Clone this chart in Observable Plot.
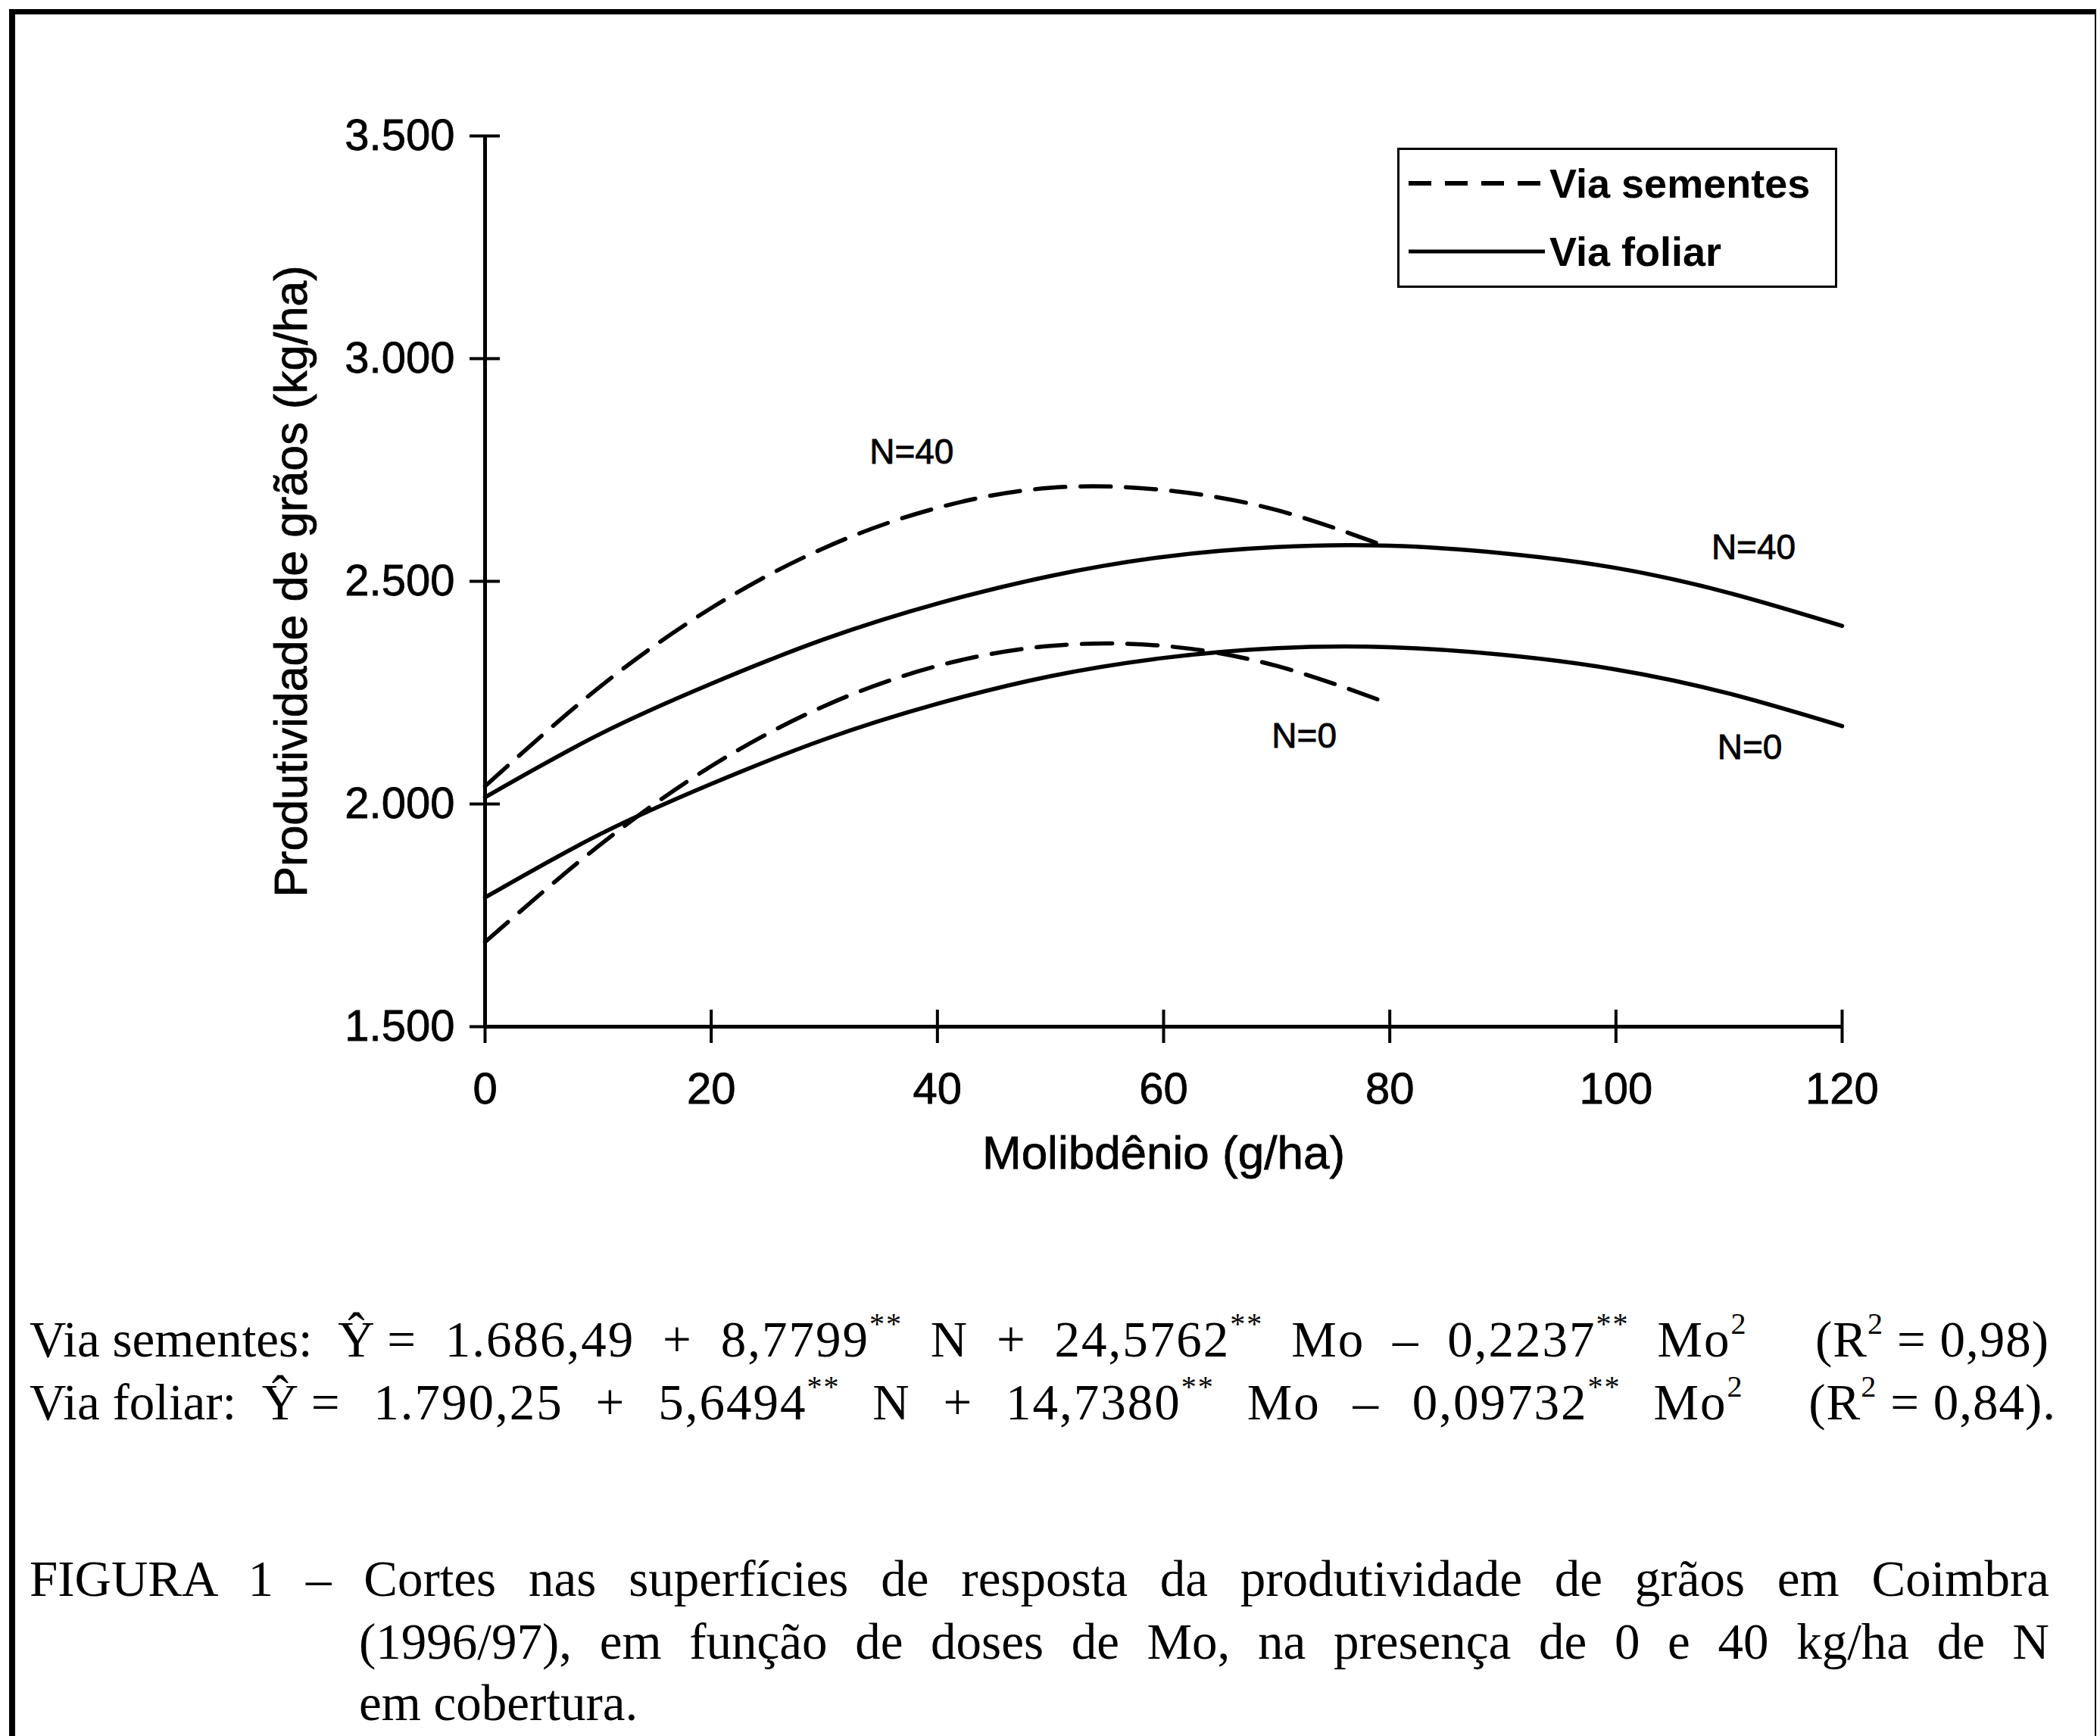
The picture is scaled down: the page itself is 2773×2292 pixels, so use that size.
<!DOCTYPE html>
<html>
<head>
<meta charset="utf-8">
<script src="https://cdn.jsdelivr.net/npm/d3@7"></script>
<script src="https://cdn.jsdelivr.net/npm/@observablehq/plot@0.6"></script>
<style>
  html, body { margin: 0; padding: 0; background: #fff; }
  body { width: 2773px; height: 2292px; position: relative; overflow: hidden; }
  #frame { position: absolute; left: 12px; top: 12px; width: 2746px; height: 2400px;
           border-top: 7px solid #000; border-left: 8px solid #000; border-right: 2px solid #000; }
  #chart { position: absolute; left: 0; top: 0; }
  #chart svg text { stroke: #000; stroke-width: 0.8px; }
  #legend { position: absolute; left: 1845px; top: 195px; width: 581px; height: 185px;
            border: 3px solid #000; box-sizing: border-box; background: #fff;
            font-family: "Liberation Sans", Arial, sans-serif; font-weight: bold; font-size: 54px; }
  #legend .row { position: absolute; left: 0; width: 100%; height: 70px; }
  #legend svg { position: absolute; left: 9px; top: 0; }
  #legend .lab { position: absolute; left: 198px; top: 0; line-height: 70px; }
  .serif { position: absolute; font-family: "Liberation Serif", "Times New Roman", serif;
           font-size: 67px; line-height: 67px; white-space: nowrap; color: #000; }
  .serif sup { font-size: 0.6em; position: relative; top: -0.75em; vertical-align: baseline; line-height: 0; }
  .eqpart { letter-spacing: 2px; word-spacing: 18px; }
  .just { text-align: justify; text-align-last: justify; }
</style>
</head>
<body>
<div id="chart"></div>
<div id="frame"></div>
<div id="legend">
  <div class="row" style="top:9px">
    <svg width="186" height="70"><line x1="3" y1="35" x2="183" y2="35" stroke="#000" stroke-width="6" stroke-dasharray="30,18"/></svg>
    <div class="lab">Via sementes</div>
  </div>
  <div class="row" style="top:99px">
    <svg width="186" height="70"><line x1="3" y1="35" x2="183" y2="35" stroke="#000" stroke-width="5"/></svg>
    <div class="lab">Via foliar</div>
  </div>
</div>

<div class="serif" style="left:39px; top:1735px">Via sementes:&nbsp; Ŷ <span class="eqpart">= 1.686,49 + 8,7799<sup>**</sup> N + 24,5762<sup>**</sup> Mo – 0,2237<sup>**</sup> Mo<sup>2</sup></span></div>
<div class="serif" style="right:67px; top:1735px; letter-spacing:1px">(R<sup>2</sup> = 0,98)</div>
<div class="serif" style="left:39px; top:1818px">Via foliar:&nbsp; Ŷ <span class="eqpart" style="word-spacing:24px">= 1.790,25 + 5,6494<sup>**</sup> N + 14,7380<sup>**</sup> Mo – 0,09732<sup>**</sup> Mo<sup>2</sup></span></div>
<div class="serif" style="right:58px; top:1818px; letter-spacing:1px">(R<sup>2</sup> = 0,84).</div>

<div class="serif just" style="left:39px; top:2051px; width:2667px; white-space:normal">FIGURA 1 – Cortes nas superfícies de resposta da produtividade de grãos em Coimbra</div>
<div class="serif just" style="left:474px; top:2134px; width:2232px; white-space:normal">(1996/97), em função de doses de Mo, na presença de 0 e 40 kg/ha de N</div>
<div class="serif" style="left:474px; top:2215px">em cobertura.</div>

<script>
// Molybdenum doses (g/ha)
const moSementes = [0, 10, 20, 30, 40, 50, 60, 70, 80];
const moFoliar = [0, 10, 20, 30, 40, 50, 60, 70, 80, 90, 100, 110, 120];
// Grain yield (kg/ha)
const sementesN0  = [1690, 1905, 2085, 2220, 2310, 2355, 2355, 2310, 2225];
const sementesN40 = [2040, 2260, 2440, 2575, 2665, 2710, 2705, 2660, 2575];
const foliarN0    = [1790, 1930, 2045, 2145, 2225, 2287, 2328, 2350, 2352, 2335, 2302, 2248, 2175];
const foliarN40   = [2015, 2155, 2270, 2370, 2450, 2512, 2555, 2577, 2580, 2563, 2530, 2474, 2400];
// Axis ticks
const xTicks = [0, 20, 40, 60, 80, 100, 120];
const yTicks = [1500, 2000, 2500, 3000, 3500];
const xLabel = "Molibdênio (g/ha)";
const yLabel = "Produtividade de grãos (kg/ha)";

const toRows = (mo, ys, via, n) => mo.map((m, i) => ({mo: m, y: ys[i], via, n}));
const sS0 = toRows(moSementes, sementesN0, "Via sementes", 0);
const sS40 = toRows(moSementes, sementesN40, "Via sementes", 40);
const sF0 = toRows(moFoliar, foliarN0, "Via foliar", 0);
const sF40 = toRows(moFoliar, foliarN40, "Via foliar", 40);
const sementes = sS0.concat(sS40);
const foliar = sF0.concat(sF40);

const fmtY = d => d3.format(",")(d).replace(/,/g, ".");
const sans = "'Liberation Sans', Arial, sans-serif";

const chart = Plot.plot({
  width: 2773,
  height: 1600,
  marginLeft: 640,
  marginRight: 341,
  marginTop: 179,
  marginBottom: 245,
  x: {domain: [0, 120]},
  y: {domain: [1500, 3500]},
  style: {fontFamily: sans, fontSize: "58px", color: "#000", background: "transparent", overflow: "visible"},
  marks: [
    Plot.line(foliar, {x: "mo", y: "y", z: "n", curve: "natural", stroke: "#000", strokeWidth: 5.5}),
    Plot.line(sementes, {x: "mo", y: "y", z: "n", curve: "natural", stroke: "#000", strokeWidth: 5.5, strokeDasharray: "40,20"}),
    Plot.ruleX([0], {stroke: "#000", strokeWidth: 5}),
    Plot.ruleY([1500], {stroke: "#000", strokeWidth: 5}),
    Plot.axisY(yTicks, {tickSize: 20, tickPadding: 20, strokeWidth: 4, tickFormat: fmtY, label: null, fontSize: 58}),
    Plot.axisY(yTicks, {tickSize: 20, dx: 20, strokeWidth: 4, tickFormat: () => "", label: null}),
    Plot.axisX(xTicks, {tickSize: 22, tickPadding: 38, strokeWidth: 4, label: null, fontSize: 58}),
    Plot.axisX(xTicks, {tickSize: 22, dy: -22, strokeWidth: 4, tickFormat: () => "", label: null}),
    Plot.text([yLabel], {frameAnchor: "left", textAnchor: "middle", rotate: -90, dx: -255, fontSize: 61, fill: "#000"}),
    Plot.text([xLabel], {frameAnchor: "bottom", textAnchor: "middle", dy: 187, fontSize: 62, fill: "#000"}),
    Plot.text(sS40.filter(d => d.mo === 40), {x: "mo", y: "y", text: d => "N=" + d.n, dx: -34, dy: -73, fontSize: 46, fill: "#000"}),
    Plot.text(sS0.filter(d => d.mo === 80), {x: "mo", y: "y", text: d => "N=" + d.n, dx: -113, dy: 43, fontSize: 46, fill: "#000"}),
    Plot.text(sF40.filter(d => d.mo === 120), {x: "mo", y: "y", text: d => "N=" + d.n, dx: -117, dy: -103, fontSize: 46, fill: "#000"}),
    Plot.text(sF0.filter(d => d.mo === 120), {x: "mo", y: "y", text: d => "N=" + d.n, dx: -122, dy: 29, fontSize: 46, fill: "#000"})
  ]
});
document.getElementById("chart").appendChild(chart);
</script>
</body>
</html>
